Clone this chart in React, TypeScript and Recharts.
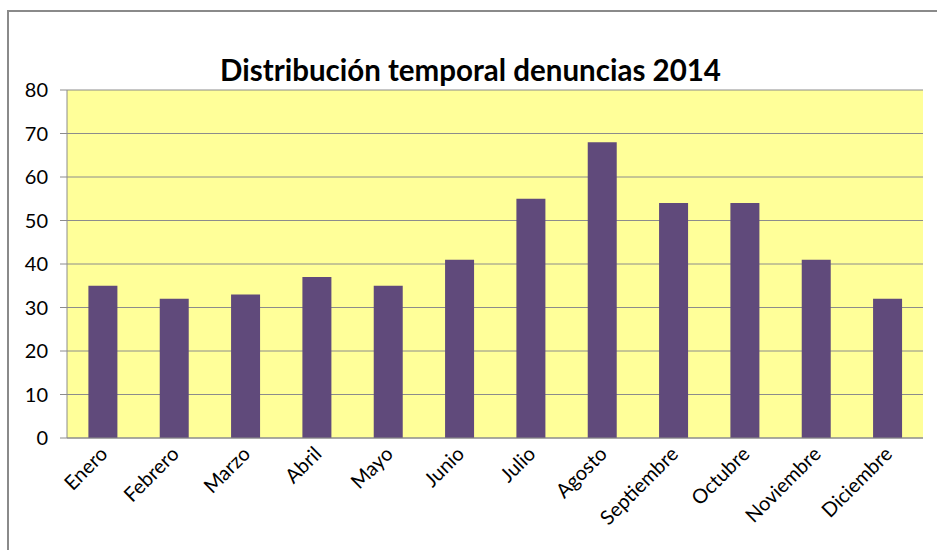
import * as React from "react";
import { BarChart, Bar, CartesianGrid, XAxis, YAxis } from "recharts";

const meses = [
  "Enero", "Febrero", "Marzo", "Abril", "Mayo", "Junio",
  "Julio", "Agosto", "Septiembre", "Octubre", "Noviembre", "Diciembre",
];
const denuncias = [35, 32, 33, 37, 35, 41, 55, 68, 54, 54, 41, 32];
const yTicks = [0, 10, 20, 30, 40, 50, 60, 70, 80];

const data = meses.map((mes, i) => ({ mes, valor: denuncias[i] }));

const FONT = "Lato, 'Open Sans', sans-serif";

// etiqueta girada -45° como en Excel
const MesTick = (props: any) => {
  const { x, y, payload } = props;
  return (
    <g transform={`translate(${x - 3},${y})`}>
      <text
        x={0}
        y={0}
        dy={13}
        textAnchor="end"
        transform="rotate(-45)"
        fill="#000"
        fontSize={20}
        fontFamily={FONT}
      >
        {payload.value}
      </text>
    </g>
  );
};

export default function App() {
  return (
    <div style={{ position: "relative", width: 937, height: 550, overflow: "hidden", background: "#fff" }}>
      <style>{"body{margin:0;overflow:hidden}"}</style>
      <div
        style={{
          position: "absolute",
          left: 7,
          top: 10,
          width: 960,
          height: 600,
          borderLeft: "2px solid #8a8a8a",
          borderTop: "2px solid #8a8a8a",
        }}
      />
      <div
        style={{
          position: "absolute",
          left: 0,
          width: 937,
          top: 52,
          textAlign: "center",
          fontFamily: FONT,
          fontWeight: 700,
          fontSize: 29.5,
          color: "#000",
          paddingLeft: 2,
        }}
      >
        Distribución temporal denuncias 2014
      </div>
      <div style={{ position: "absolute", left: 0, top: 0 }}>
        <BarChart
          width={937}
          height={550}
          data={data}
          margin={{ top: 90, right: 14, bottom: 0, left: 0 }}
          barCategoryGap="30%"
        >
          <CartesianGrid vertical={false} stroke="#8c8c8c" fill="#FFFF99" fillOpacity={1} />
          <XAxis
            dataKey="mes"
            interval={0}
            tickLine={false}
            axisLine={{ stroke: "#8c8c8c" }}
            tick={<MesTick />}
            height={112}
          />
          <YAxis
            domain={[0, 80]}
            ticks={yTicks}
            width={67}
            tickSize={7}
            tickMargin={12}
            axisLine={{ stroke: "#8c8c8c" }}
            tickLine={{ stroke: "#8c8c8c" }}
            tick={{ fill: "#000", fontSize: 20, fontFamily: FONT }}
          />
          <Bar dataKey="valor" fill="#604A7B" isAnimationActive={false} />
        </BarChart>
      </div>
    </div>
  );
}
